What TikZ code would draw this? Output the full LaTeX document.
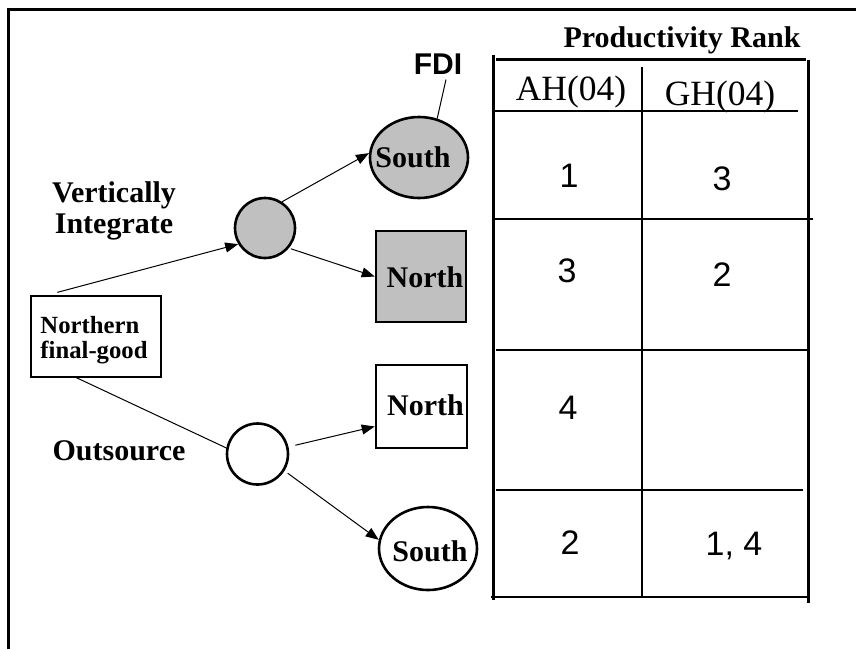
\documentclass[tikz,border=0pt]{standalone}
\usepackage{fontspec}
\setmainfont{Liberation Serif}
\setsansfont{Liberation Sans}
\usetikzlibrary{arrows.meta,shapes.geometric}
\definecolor{shade}{RGB}{192,192,192}
\tikzset{
  frameline/.style={line width=3pt},
  tabthick/.style={line width=3pt},
  tabthin/.style={line width=2pt},
  shapebox/.style={draw, line width=2.6pt, inner sep=0pt},
  lbl/.style={font=\bfseries\fontsize{30}{31}\selectfont, inner sep=0pt},
  headtxt/.style={font=\fontsize{35.5}{37}\selectfont, inner sep=0pt},
  numtxt/.style={font=\sffamily\fontsize{34}{36}\selectfont, inner sep=0pt},
  conn/.style={line width=1pt, -{Triangle[length=13pt,width=10pt]}},
}
\begin{document}
\begin{tikzpicture}[x=1pt,y=-1pt]
\useasboundingbox (0,0) rectangle (856,649);
% outer frame
\draw[frameline] (8.5,649) -- (8.5,9) -- (856,9);

% tree shapes
\node[shapebox, rectangle, line width=1.3pt, minimum width=130pt, minimum height=81pt] (fin) at (96,336.5) {};
\node[lbl, font=\bfseries\fontsize{24.7}{25}\selectfont, align=left] (fintxt) at (94,340) {Northern\\final-good};
\node[shapebox, circle, fill=shade, minimum size=60pt] (vi) at (265,228) {};
\node[shapebox, ellipse, fill=shade, minimum width=98pt, minimum height=81pt] (gs) at (419,157.5) {};
\node[lbl] (gstxt) at (413,157) {South};
\node[shapebox, rectangle, fill=shade, minimum width=90pt, minimum height=91pt] (gn) at (421,276.5) {};
\node[lbl] (gntxt) at (425,277) {North};
\node[shapebox, circle, fill=white, minimum size=61pt] (os) at (257.5,454) {};
\node[shapebox, rectangle, minimum width=91pt, minimum height=83pt] (wn) at (421.5,406.5) {};
\node[lbl] (wntxt) at (425.5,405) {North};
\node[shapebox, ellipse, minimum width=98pt, minimum height=83pt] (ws) at (428,548.5) {};
\node[lbl] (wstxt) at (430,551) {South};

% labels
\node[lbl, align=center, font=\bfseries\fontsize{30}{31}\selectfont] (vitxt) at (114,211) {Vertically\\Integrate};
\node[lbl] (ostxt) at (119,451) {Outsource};
\node[lbl, font=\sffamily\bfseries\fontsize{30}{31}\selectfont] (fdi) at (438,64) {FDI};
\node[lbl] (prank) at (682,40) {Productivity Rank};

% connectors
\draw[conn] ([shift={(27,-3)}]fin.north west) -- (vi.211);
\draw[conn] (vi.57) -- (gs.175);
\draw[conn, shorten <=2pt] (vi.-40) -- (gn.west);
\draw[line width=1pt] ([xshift=46pt]fin.south west) -- (os.169);
\draw[conn, shorten <=7pt] (os.13) -- ([yshift=-20pt]wn.west);
\draw[conn, shorten <=4pt] (os.-32) -- (ws.170);
\draw[line width=1pt] ([shift={(8,5)}]fdi.south) -- (gs.65);

% table
\draw[tabthick] (493,55) -- (493,600);
\draw[tabthick] (496,59) -- (806,59);
\draw[tabthick] (808,60) -- (808,603);
\draw[tabthin] (642,67) -- (642,597);
\draw[tabthin] (494,111) -- (798,111);
\draw[tabthin] (494,219) -- (813,219);
\draw[line width=1.6pt] (496,350) -- (807,350);
\draw[tabthin] (496,490) -- (803,490);
\draw[line width=2.6pt] (491,597) -- (810,597);

\node[headtxt] (ah) at (571,92) {AH(04)};
\node[headtxt] (gh) at (720,97) {GH(04)};
\node[numtxt] (a1) at (569,176) {1};
\node[numtxt] (g1) at (722,179) {3};
\node[numtxt] (a2) at (567,271) {3};
\node[numtxt] (g2) at (722,275) {2};
\node[numtxt] (a3) at (568,408) {4};
\node[numtxt] (a4) at (570,543) {2};
\node[numtxt] (g4) at (734,546) {1, 4};
\end{tikzpicture}
\end{document}
